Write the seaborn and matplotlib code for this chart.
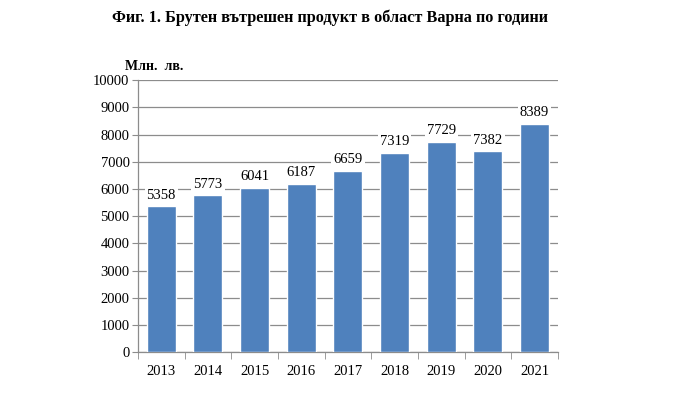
import matplotlib
matplotlib.use("Agg")
import matplotlib.pyplot as plt
import seaborn as sns
import pandas as pd
import numpy as np

years = ["2013", "2014", "2015", "2016", "2017", "2018", "2019", "2020", "2021"]
gdp = [5358, 5773, 6041, 6187, 6659, 7319, 7729, 7382, 8389]

df = pd.DataFrame({"year": years, "gdp": gdp})

sns.set_style("white")
plt.rcParams["font.family"] = ["Liberation Serif", "DejaVu Serif"]
plt.rcParams["text.color"] = "black"
plt.rcParams["xtick.color"] = "black"
plt.rcParams["ytick.color"] = "black"

fig = plt.figure(figsize=(7, 3.93), dpi=100)
ax = fig.add_axes([0.197, 0.104, 0.600, 0.692])

sns.barplot(data=df, x="year", y="gdp", color="#4F81BD", saturation=1,
            width=0.62, ax=ax, zorder=3)

ax.set_ylim(0, 10000)
ax.set_yticks(range(0, 10001, 1000))
ax.set_xlim(-0.5, len(years) - 0.5)
ax.yaxis.grid(True, color="#8c8c8c", linewidth=0.9, zorder=0)
ax.set_axisbelow(True)
ax.set_xlabel("")
ax.set_ylabel("")

for s in ["top", "right"]:
    ax.spines[s].set_visible(False)
for s in ["left", "bottom"]:
    ax.spines[s].set_color("#8c8c8c")
    ax.spines[s].set_linewidth(0.9)

ax.tick_params(axis="y", length=4, color="#8c8c8c", labelcolor="black", labelsize=10.5, pad=2, direction="out", left=True)
ax.tick_params(axis="x", length=0, labelcolor="black", labelsize=10.5, pad=9)
ax.set_xticks(np.arange(-0.5, len(years)), minor=True)
ax.tick_params(axis="x", which="minor", length=5, color="#8c8c8c", bottom=True, direction="out")

for i, v in enumerate(gdp):
    ax.text(i, v + 170, str(v), ha="center", va="bottom", fontsize=10.5, color="black",
            bbox=dict(facecolor="white", edgecolor="none", pad=1.5), zorder=4)

fig.text(0.471, 0.955, "Фиг. 1. Брутен вътрешен продукт в област Варна по години",
         ha="center", va="center", fontsize=11.7, fontweight="bold", color="black")
fig.text(0.178, 0.832, "Млн.  лв.", ha="left", va="center", fontsize=10, fontweight="bold", color="black")

fig.savefig("out.png", dpi=100)
